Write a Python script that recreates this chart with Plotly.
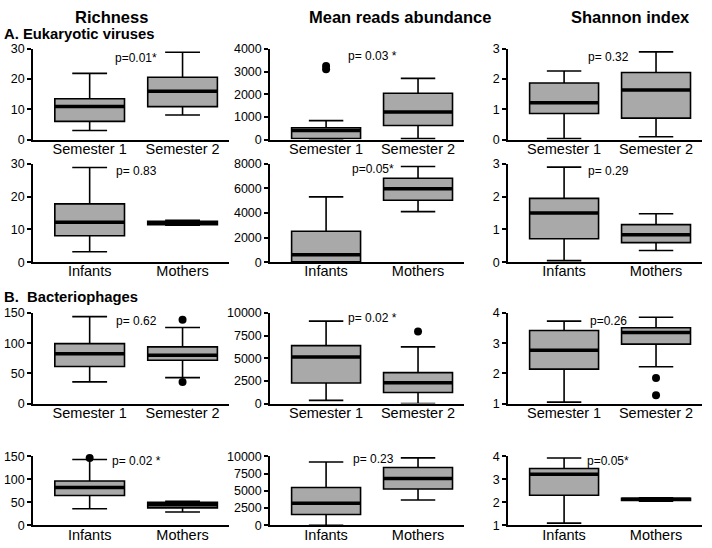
import plotly.graph_objects as go

W, H = 712, 548

groups_sem = ["Semester 1", "Semester 2"]
groups_im = ["Infants", "Mothers"]

# box stats per group: [lower whisker, q1, median, q3, upper whisker]
euk_rich_sem = [[3.0, 6.0, 10.9, 13.5, 21.9], [8.1, 10.9, 16.0, 20.6, 28.9]]
euk_reads_sem = [[0, 45, 400, 520, 835], [40, 620, 1220, 2040, 2700]]
euk_shan_sem = [[0.03, 0.86, 1.22, 1.87, 2.27], [0.09, 0.71, 1.64, 2.22, 2.90]]
euk_rich_im = [[3.2, 8.1, 12.2, 17.8, 28.9], [11.3, 11.5, 12.0, 12.5, 12.8]]
euk_reads_im = [[0, 50, 610, 2525, 5316], [4120, 5050, 5980, 6830, 7787]]
euk_shan_im = [[0.05, 0.72, 1.5, 1.95, 2.9], [0.36, 0.6, 0.84, 1.15, 1.48]]
pha_rich_sem = [[36, 61.5, 82.6, 99.3, 144], [43, 71.8, 79.9, 93.9, 126]]
pha_reads_sem = [[360, 2266, 5144, 6403, 9100], [0, 1223, 2302, 3417, 6259]]
pha_shan_sem = [[1.05, 2.14, 2.77, 3.42, 3.73], [2.22, 2.97, 3.35, 3.51, 3.86]]
pha_rich_im = [[36, 65, 82, 96.3, 143], [29, 38, 45, 50, 52]]
pha_reads_im = [[0, 1581, 3209, 5488, 9163], [3674, 5256, 6791, 8372, 9767]]
pha_shan_im = [[1.1, 2.31, 3.22, 3.47, 3.92], [2.05, 2.08, 2.13, 2.18, 2.2]]

# outliers: (group index, value)
euk_reads_sem_out = [(0, 3100), (0, 3250)]
pha_rich_sem_out = [(1, 139), (1, 35.6)]
pha_reads_sem_out = [(1, 7950)]
pha_shan_sem_out = [(1, 1.85), (1, 1.28)]
pha_rich_im_out = [(0, 146)]

yranges = {
    "r1": [[0, 30], [0, 4000], [0, 3]],
    "r2": [[0, 30], [0, 8000], [0, 3]],
    "r3": [[0, 150], [0, 10000], [1, 4]],
    "r4": [[0, 150], [0, 10000], [1, 4]],
}
yticks = {
    "r1": [[0, 10, 20, 30], [0, 1000, 2000, 3000, 4000], [0, 1, 2, 3]],
    "r2": [[0, 10, 20, 30], [0, 2000, 4000, 6000, 8000], [0, 1, 2, 3]],
    "r3": [[0, 50, 100, 150], [0, 2500, 5000, 7500, 10000], [1, 2, 3, 4]],
    "r4": [[0, 50, 100, 150], [0, 2500, 5000, 7500, 10000], [1, 2, 3, 4]],
}
pvals = {
    "r1": ["p=0.01*", "p= 0.03 *", "p= 0.32"],
    "r2": ["p= 0.83", "p=0.05*", "p= 0.29"],
    "r3": ["p= 0.62", "p= 0.02 *", "p=0.26"],
    "r4": ["p= 0.02 *", "p= 0.23", "p=0.05*"],
}

panels = {
    "r1": [(euk_rich_sem, []), (euk_reads_sem, euk_reads_sem_out), (euk_shan_sem, [])],
    "r2": [(euk_rich_im, []), (euk_reads_im, []), (euk_shan_im, [])],
    "r3": [(pha_rich_sem, pha_rich_sem_out), (pha_reads_sem, pha_reads_sem_out), (pha_shan_sem, pha_shan_sem_out)],
    "r4": [(pha_rich_im, pha_rich_im_out), (pha_reads_im, []), (pha_shan_im, [])],
}
row_groups = {"r1": groups_sem, "r2": groups_im, "r3": groups_sem, "r4": groups_im}

# layout in pixels
row_px = {"r1": (43, 136), "r2": (161, 262), "r3": (314, 407), "r4": (461, 532)}
col_px = [(33, 229), (270, 464), (508, 702)]
p_px = {
    "r1": [(136, 52), (372, 50), (608, 51)],
    "r2": [(136, 168), (373, 166), (608, 168)],
    "r3": [(136, 322), (372, 319), (608, 322)],
    "r4": [(136, 466), (373, 464), (608, 466)],
}
XR = [-0.61, 1.5]
BW = 0.75
FONT = "Arial, Liberation Sans, sans-serif"
FILL = "#A9A9A9"

fig = go.Figure()
layout = {}
annotations = []
k = 0
for r in ["r1", "r2", "r3", "r4"]:
    for c in range(3):
        k += 1
        xa = "x" if k == 1 else f"x{k}"
        ya = "y" if k == 1 else f"y{k}"
        stats, outs = panels[r][c]
        xs = [0, 1]
        fig.add_trace(go.Box(
            x=xs,
            lowerfence=[s[0] for s in stats],
            q1=[s[1] for s in stats],
            median=[s[2] for s in stats],
            q3=[s[3] for s in stats],
            upperfence=[s[4] for s in stats],
            width=BW, fillcolor=FILL,
            line=dict(color="black", width=1.6),
            boxpoints=False, showlegend=False, hoverinfo="skip",
            xaxis=xa, yaxis=ya,
        ))
        mx, my = [], []
        for i, s in enumerate(stats):
            mx += [i - BW / 2, i + BW / 2, None]
            my += [s[2], s[2], None]
        fig.add_trace(go.Scatter(x=mx, y=my, mode="lines",
                                 line=dict(color="black", width=3.5),
                                 showlegend=False, hoverinfo="skip",
                                 xaxis=xa, yaxis=ya))
        if outs:
            fig.add_trace(go.Scatter(x=[o[0] for o in outs], y=[o[1] for o in outs],
                                     mode="markers",
                                     marker=dict(color="black", size=8),
                                     showlegend=False, hoverinfo="skip",
                                     cliponaxis=False,
                                     xaxis=xa, yaxis=ya))
        x0, x1 = col_px[c]
        y0, y1 = row_px[r]
        axn = "" if k == 1 else str(k)
        layout["xaxis" + axn] = dict(
            domain=[x0 / W, x1 / W], range=XR, anchor=ya,
            tickvals=xs, ticktext=row_groups[r],
            showline=True, linecolor="black", linewidth=1.5,
            ticks="", showgrid=False, zeroline=False,
            ticklabelstandoff=-5,
            tickfont=dict(family=FONT, size=14.5, color="black"),
            fixedrange=True,
        )
        layout["yaxis" + axn] = dict(
            domain=[1 - y1 / H, 1 - y0 / H], range=yranges[r][c], anchor=xa,
            tickvals=yticks[r][c], tickformat="d",
            showline=True, linecolor="black", linewidth=1.5,
            ticks="outside", ticklen=4, tickwidth=1.5, tickcolor="black",
            showgrid=False, zeroline=False,
            tickfont=dict(family=FONT, size=12.5, color="black"),
            fixedrange=True,
        )
        px_, py_ = p_px[r][c]
        annotations.append(dict(
            x=px_ / W, y=1 - py_ / H, xref="paper", yref="paper",
            text=pvals[r][c], showarrow=False, xanchor="center", yanchor="middle",
            font=dict(family=FONT, size=12, color="black"),
        ))

titles = [("Richness", 111), ("Mean reads abundance", 400), ("Shannon index", 630)]
for t, cx in titles:
    annotations.append(dict(x=cx / W, y=1 - 10 / H, xref="paper", yref="paper",
                            text=f"<b>{t}</b>", showarrow=False,
                            xanchor="center", yanchor="middle", borderpad=0,
                            font=dict(family=FONT, size=16.5, color="black")))
for t, cy in [("A. Eukaryotic viruses", 28), ("B.\u00a0 Bacteriophages", 298)]:
    annotations.append(dict(x=3 / W, y=1 - cy / H, xref="paper", yref="paper",
                            text=f"<b>{t}</b>", showarrow=False,
                            xanchor="left", yanchor="middle", borderpad=0,
                            font=dict(family=FONT, size=14.8, color="black")))

fig.update_layout(
    width=W, height=H,
    margin=dict(l=0, r=0, t=0, b=0),
    paper_bgcolor="white", plot_bgcolor="white",
    annotations=annotations,
    **layout,
)
fig.write_html("out.html",
               config={"displayModeBar": False},
               post_script="document.body.style.margin='0';document.body.style.overflow='hidden';")
